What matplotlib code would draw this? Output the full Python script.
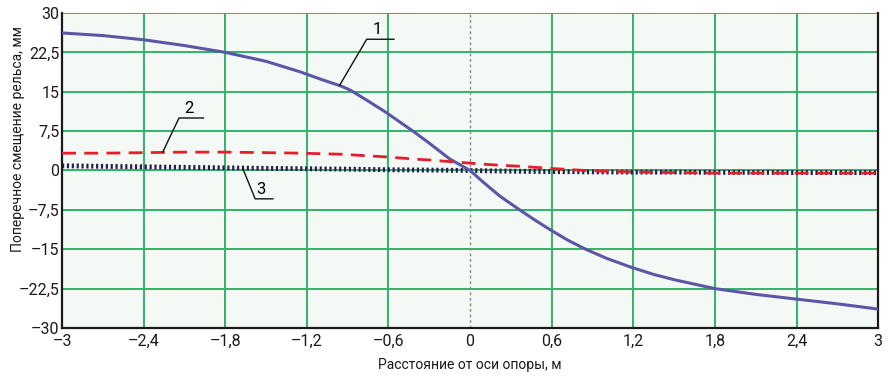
import matplotlib.pyplot as plt

plt.rcParams['font.family'] = ['Roboto', 'DejaVu Sans']

# distance from the support axis, m
x = [-3.0, -2.7, -2.4, -2.1, -1.8, -1.5, -1.25, -1.1, -0.95, -0.88, -0.76,
     -0.62, -0.42, -0.3, -0.15, 0.0, 0.1, 0.22, 0.37, 0.48, 0.59, 0.72,
     0.85, 1.0, 1.18, 1.35, 1.5, 1.8, 2.1, 2.4, 2.7, 3.0]

# lateral rail displacement, mm
curve1 = [26.2, 25.7, 24.9, 23.8, 22.5, 20.8, 18.8, 17.4, 16.1, 15.3, 13.4,
          11.1, 7.5, 5.2, 2.2, 0.0, -2.3, -4.9, -7.6, -9.5, -11.3, -13.3,
          -15.0, -16.7, -18.4, -19.8, -20.8, -22.5, -23.6, -24.5, -25.4, -26.4]
curve2 = [3.3, 3.3, 3.4, 3.5, 3.5, 3.4, 3.3, 3.2, 3.1, 3.0, 2.8,
          2.6, 2.2, 2.0, 1.7, 1.4, 1.2, 1.0, 0.8, 0.6, 0.4, 0.2,
          0.0, -0.15, -0.3, -0.35, -0.4, -0.5, -0.5, -0.5, -0.5, -0.5]
curve3 = [0.9, 0.8, 0.7, 0.6, 0.5, 0.4, 0.35, 0.3, 0.27, 0.25, 0.2,
          0.15, 0.1, 0.08, 0.04, 0.0, -0.05, -0.1, -0.15, -0.18, -0.2, -0.22,
          -0.25, -0.28, -0.3, -0.3, -0.3, -0.35, -0.35, -0.4, -0.4, -0.4]

xticks = [-3, -2.4, -1.8, -1.2, -0.6, 0, 0.6, 1.2, 1.8, 2.4, 3]
yticks = [-30, -22.5, -15, -7.5, 0, 7.5, 15, 22.5, 30]


def fmt(v):
    s = ('%g' % v).replace('.', ',')
    return s.replace('-', '\u2013')


fig = plt.figure(figsize=(8.9, 3.78), dpi=100)
ax = fig.add_axes([0.0697, 0.1323, 0.917, 0.8333])
ax.set_facecolor('#f4f9f5')

grid_c = '#2eb46a'
for t in xticks[1:-1]:
    if t != 0:
        ax.axvline(t, color=grid_c, lw=1.4, zorder=1)
for t in yticks[1:]:
    ax.axhline(t, color=grid_c, lw=1.4, zorder=1)
ax.axvline(0, color='#888888', lw=1.0, ls=(0, (2, 2)), zorder=1)

ax.plot(x, curve1, color='#5c56a6', lw=2.2, zorder=3)
ax.plot(x, curve2, color='#e61e2c', lw=2.0, ls=(0, (5, 3)), zorder=3)
ax.plot(x, curve3, color='#2b1b4e', lw=3.5, ls=(0, (0.45, 0.55)), zorder=2)

ax.set_xlim(-3, 3)
ax.set_ylim(-30, 30)
ax.set_xticks(xticks)
ax.set_xticklabels([fmt(t) for t in xticks])
ax.set_yticks(yticks)
ax.set_yticklabels([fmt(t) for t in yticks])
ax.tick_params(length=0, labelsize=11.5, colors='#1a1a1a')
ax.tick_params(axis='x', pad=4)
ax.tick_params(axis='y', pad=2)

for side in ['left', 'bottom', 'right']:
    ax.spines[side].set_color('#1a1a1a')
    ax.spines[side].set_linewidth(1.6)
ax.spines['top'].set_visible(False)

fig.text(470 / 890, 1 - 365 / 378, 'Расстояние от оси опоры, м',
         fontsize=10, ha='center', va='center', color='#1a1a1a')
fig.text(18 / 890, 1 - 139 / 378, 'Поперечное смещение рельса, мм',
         fontsize=10, ha='center', va='center', rotation=90, color='#1a1a1a')

# leader lines with curve numbers
leaders = [('1', (-0.96, 16.2), (-0.76, 25.0), (-0.56, 25.0)),
           ('2', (-2.26, 3.5), (-2.14, 10.0), (-1.96, 10.0)),
           ('3', (-1.67, 0.3), (-1.58, -5.4), (-1.45, -5.4))]
for label, p0, p1, p2 in leaders:
    ax.plot([p0[0], p1[0], p2[0]], [p0[1], p1[1], p2[1]],
            color='#111111', lw=1.0, zorder=4)
    ax.text((p1[0] + p2[0]) / 2 - 0.02, p1[1] + 0.4, label, fontsize=12,
            ha='center', va='bottom', zorder=4)

fig.savefig('out.png', dpi=100)
